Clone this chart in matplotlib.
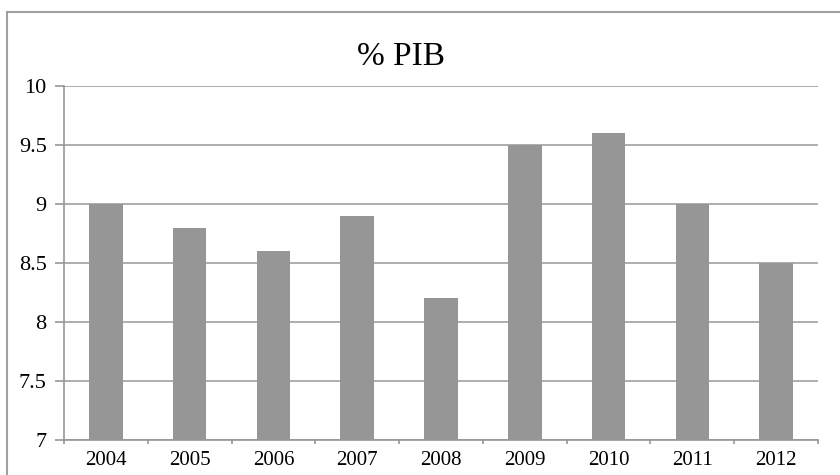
import matplotlib
matplotlib.use('Agg')
import matplotlib.pyplot as plt
from matplotlib.patches import Rectangle

years = ['2004', '2005', '2006', '2007', '2008', '2009', '2010', '2011', '2012']
pib = [9.0, 8.8, 8.6, 8.9, 8.2, 9.5, 9.6, 9.0, 8.5]
yticks = [7, 7.5, 8, 8.5, 9, 9.5, 10]

plt.rcParams['font.family'] = ['Liberation Serif', 'DejaVu Serif']

fig = plt.figure(figsize=(8.4, 4.75), dpi=100)
ax = fig.add_axes([64 / 840, 35 / 475, 754 / 840, 354 / 475])

x = range(len(years))
ax.bar(x, [v - 7 for v in pib], bottom=7, width=0.4, color='#969696', zorder=3)

ax.set_xlim(-0.5, len(years) - 0.5)
ax.set_ylim(7, 10)
ax.set_yticks(yticks)
ax.set_yticklabels(['7', '7.5', '8', '8.5', '9', '9.5', '10'], fontsize=16)
ax.set_xticks(x)
ax.set_xticklabels(years, fontsize=15)
ax.set_xticks([i + 0.5 for i in range(-1, len(years))], minor=True)
ax.tick_params(axis='x', which='major', length=0, pad=8)
ax.tick_params(axis='x', which='minor', length=3, color='#969696', width=1.2)
ax.tick_params(axis='y', length=6.5, color='#969696', width=1.2, pad=6)
ax.grid(axis='y', color='#a0a0a0', linewidth=1.2, zorder=0)

for side in ['top', 'right']:
    ax.spines[side].set_visible(False)
for side in ['left', 'bottom']:
    ax.spines[side].set_color('#969696')
    ax.spines[side].set_linewidth(1.2)

fig.text(401 / 840, 1 - 57 / 475, '% PIB', ha='center', va='center', fontsize=24)

# outer chart frame (cropped on right and bottom)
fig.patches.append(Rectangle((7 / 840, -0.1), 1.0, 1 - 12 / 475 + 0.1,
                             transform=fig.transFigure, fill=False,
                             edgecolor='#a0a0a0', linewidth=1.5))

fig.savefig('out.png', dpi=100)
